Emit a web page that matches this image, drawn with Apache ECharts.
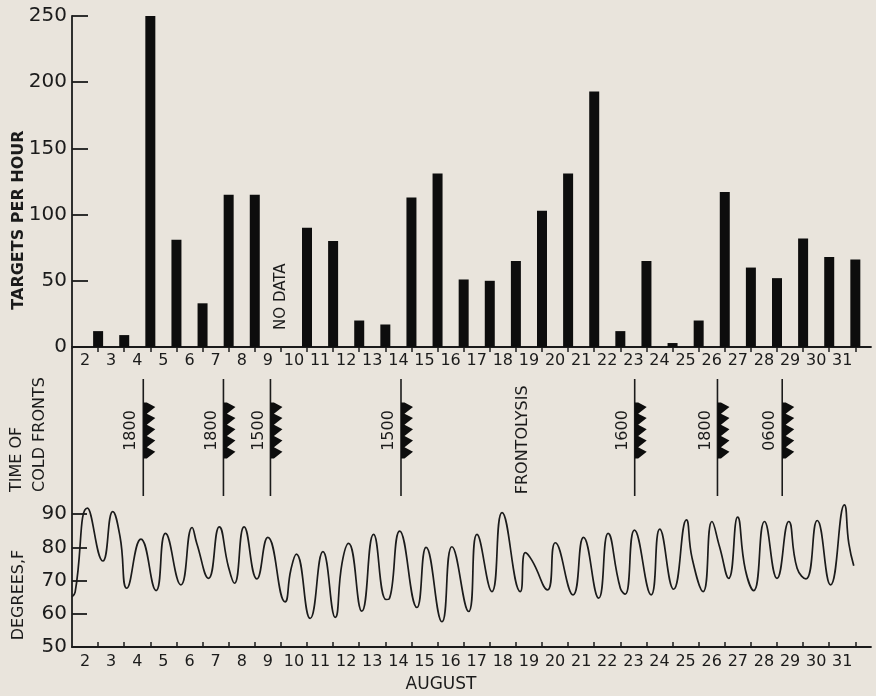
<!DOCTYPE html>
<html>
<head>
<meta charset="utf-8">
<script src="https://cdn.jsdelivr.net/npm/echarts@6/dist/echarts.min.js"></script>
<style>
html,body{margin:0;padding:0;background:#e9e4dc;}
#chart{width:876px;height:696px;}
</style>
</head>
<body>
<div id="chart"></div>
<script>
// ---- data ----
const dayLabels = ['2','3','4','5','6','7','8','9','10','11','12','13','14','15','16','17','18','19','20','21','22','23','24','25','26','27','28','29','30','31'];
const tickDays = [3,4,5,6,7,8,9,10,11,12,13,14,15,16,17,18,19,20,21,22,23,24,25,26,27,28,29,30,31,32];
// bars sit on the night boundary between two days
const barDays = [3,4,5,6,7,8,9,10,11,12,13,14,15,16,17,18,19,20,21,22,23,24,25,26,27,28,29,30,31,32];
const targets = [12,9,250,81,33,115,115,null,90,80,20,17,113,131,51,50,65,103,131,193,12,65,3,20,117,60,52,82,68,66];
const targetTicks = [0,50,100,150,200,250];

const frontDays = [4.73,7.8,9.6,14.6,23.55,26.72,29.2];
const frontTimes = ['1800','1800','1500','1500','1600','1800','0600'];
const noteDays = [10, 19.25];
const noteLevels = [38, 0.48];
const noteTexts = ['NO DATA', 'FRONTOLYSIS'];

const tempDays = [2.0,2.12,2.59,3.18,3.56,3.84,4.10,4.64,5.22,5.58,6.17,6.60,6.78,7.23,7.64,7.99,8.22,8.59,9.08,9.50,10.16,10.38,10.59,11.12,11.61,12.08,12.34,12.59,13.10,13.55,14.03,14.15,14.55,15.21,15.56,16.17,16.55,17.19,17.51,18.08,18.47,19.17,19.36,19.62,20.21,20.51,21.19,21.59,22.17,22.53,23.00,23.19,23.54,24.18,24.51,25.04,25.53,25.75,26.17,26.51,26.80,27.15,27.49,27.79,28.11,28.52,29.00,29.45,29.77,30.11,30.54,31.05,31.58,31.75,31.94];
const tempValues = [65.1,66.5,91.8,75.9,90.8,83.2,67.7,82.5,67.0,84.2,68.7,86,81.2,70.7,86.2,74.2,69.2,86.2,70.5,83,63.6,73.2,78.0,58.6,78.7,58.9,75.2,81.2,60.8,83.9,64.3,64.5,84.9,61.9,80.0,57.6,80.2,60.7,83.9,66.7,90.5,66.7,78.4,76.0,67.2,81.4,65.7,83.0,64.7,84.2,67.7,65.9,85.2,65.7,85.5,67.4,88.3,76.7,66.7,87.8,80.2,70.7,89.1,73.2,67.0,87.8,70.7,87.8,73.7,70.5,88.1,68.7,92.8,81.2,74.5];
const tempLabelValues = [50,60,70,80,90];
const tempTickValues = [60,70,80,90];

// ---- chart ----
const FONT = 'DejaVu Sans';
const INK = '#1b1b1b';
const chart = echarts.init(document.getElementById('chart'));
const dayCenters = dayLabels.map(l => Number(l) + 0.5);
const dayFmt = v => dayLabels[Math.round(v - 2.5)] || '';
const axisLine = {show: true, onZero: false, lineStyle: {color: INK, width: 1.8}};

function vText(x, y, text, size) {
  return {type: 'text', x: x, y: y, rotation: Math.PI / 2,
    style: {text: text, fontSize: size, fontFamily: FONT, fill: INK,
            align: 'center', verticalAlign: 'middle', textAlign: 'center', textVerticalAlign: 'middle'}};
}

const option = {
  backgroundColor: '#e9e4dc',
  animation: false,
  textStyle: {fontFamily: FONT, color: INK},
  grid: [
    {left: 72, top: 16, width: 799, height: 331},
    {left: 72, top: 379, width: 799, height: 117},
    {left: 72, top: 348.2, width: 799, height: 298.8}
  ],
  xAxis: [
    {gridIndex: 0, type: 'value', min: 2, max: 32.6, axisLine: axisLine,
     axisTick: {show: true, customValues: tickDays, inside: false, length: 5, lineStyle: {color: INK, width: 1.5}},
     axisLabel: {customValues: dayCenters, formatter: dayFmt, fontSize: 16, margin: 6, color: INK, fontFamily: FONT},
     splitLine: {show: false}},
    {gridIndex: 1, type: 'value', min: 2, max: 32.6, show: false},
    {gridIndex: 2, type: 'value', min: 2, max: 32.6, axisLine: axisLine,
     axisTick: {show: true, customValues: tickDays, inside: true, length: 5, lineStyle: {color: INK, width: 1.5}},
     axisLabel: {customValues: dayCenters, formatter: dayFmt, fontSize: 16, margin: 7, color: INK, fontFamily: FONT},
     splitLine: {show: false}}
  ],
  yAxis: [
    {gridIndex: 0, type: 'value', min: 0, max: 250, interval: 50, axisLine: axisLine,
     axisTick: {show: true, customValues: targetTicks, inside: true, length: 16, lineStyle: {color: INK, width: 1.8}},
     axisLabel: {customValues: targetTicks, fontSize: 20, margin: 5, color: INK, fontFamily: FONT},
     splitLine: {show: false}},
    {gridIndex: 1, type: 'value', min: 0, max: 1, show: false},
    {gridIndex: 2, type: 'value', min: 50, max: 140, interval: 10, axisLine: axisLine,
     axisTick: {show: true, customValues: tempTickValues, inside: true, length: 15, lineStyle: {color: INK, width: 1.8}},
     axisLabel: {customValues: tempLabelValues, fontSize: 20, margin: 5, color: INK, fontFamily: FONT},
     splitLine: {show: false}}
  ],
  graphic: [
    {type: 'text', x: 19, y: 220, rotation: Math.PI / 2,
     style: {text: 'TARGETS PER HOUR', fontSize: 16, fontWeight: 'bold', fontFamily: FONT, fill: INK,
             align: 'center', verticalAlign: 'middle', textAlign: 'center', textVerticalAlign: 'middle'}},
    {type: 'text', x: 28.5, y: 492, rotation: Math.PI / 2,
     style: {text: 'TIME OF\nCOLD FRONTS', fontSize: 16, lineHeight: 23, fontFamily: FONT, fill: INK,
             align: 'left', verticalAlign: 'middle', textAlign: 'left', textVerticalAlign: 'middle'}},
    vText(19, 595, 'DEGREES,F', 16),
    {type: 'text', x: 441, y: 685,
     style: {text: 'AUGUST', fontSize: 17, fontFamily: FONT, fill: INK,
             align: 'center', verticalAlign: 'middle', textAlign: 'center', textVerticalAlign: 'middle'}}
  ],
  series: [
    {type: 'bar', xAxisIndex: 0, yAxisIndex: 0, barWidth: 10,
     itemStyle: {color: '#0d0d0d'},
     data: barDays.map((d, i) => [d, targets[i]]).filter(p => p[1] !== null)},
    {type: 'custom', xAxisIndex: 0, yAxisIndex: 0, clip: false,
     data: [[noteDays[0], noteLevels[0]]],
     renderItem: function (params, api) {
       const p = api.coord([api.value(0), api.value(1)]);
       return vText(p[0], p[1], noteTexts[0], 15);
     }},
    {type: 'custom', xAxisIndex: 1, yAxisIndex: 1, clip: false,
     data: [[noteDays[1], noteLevels[1]]],
     renderItem: function (params, api) {
       const p = api.coord([api.value(0), api.value(1)]);
       return vText(p[0], p[1], noteTexts[1], 16);
     }},
    {type: 'custom', xAxisIndex: 1, yAxisIndex: 1, clip: false,
     data: frontDays.map(d => [d, 0]),
     renderItem: function (params, api) {
       const d = api.value(0);
       const top = api.coord([d, 1]);
       const bot = api.coord([d, 0]);
       const tA = api.coord([d, 0.80])[1];
       const tB = api.coord([d, 0.32])[1];
       const tx = api.coord([d, 0.56]);
       const x = top[0];
       const n = 5, h = (tB - tA) / n;
       const pts = [[x, tA]];
       for (let i = 0; i < n; i++) {
         const y0 = tA + i * h;
         pts.push([x + 3.5, y0]);
         pts.push([x + 12, y0 + 0.4 * h]);
       }
       pts.push([x + 3.5, tB]);
       pts.push([x, tB]);
       const t = vText(x - 12, tx[1], frontTimes[params.dataIndex], 16);
       return {
         type: 'group',
         children: [
           {type: 'line', shape: {x1: x, y1: top[1], x2: x, y2: bot[1]}, style: {stroke: INK, lineWidth: 1.6}},
           {type: 'polygon', shape: {points: pts}, style: {fill: '#0d0d0d'}},
           t
         ]
       };
     }},
    {type: 'line', xAxisIndex: 2, yAxisIndex: 2, smooth: 0.5, showSymbol: false, symbol: 'none',
     lineStyle: {color: INK, width: 1.7},
     data: tempDays.map((d, i) => [d, tempValues[i]])}
  ]
};
chart.setOption(option);
</script>
</body>
</html>
